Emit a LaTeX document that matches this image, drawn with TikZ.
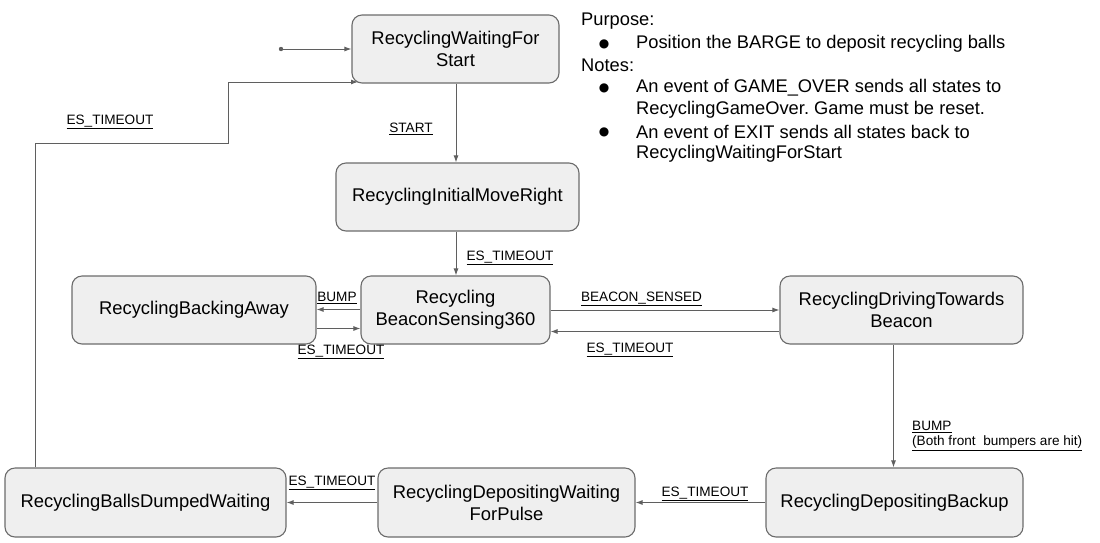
\documentclass[tikz,border=0pt]{standalone}
\usepackage{fontspec}
\setmainfont{Liberation Sans}
\newfontfamily\symfont{DejaVu Sans}
\usetikzlibrary{arrows.meta,calc}
\frenchspacing
\definecolor{boxfill}{HTML}{EFEFEF}
\definecolor{boxline}{HTML}{6B6B6B}
\definecolor{arrline}{HTML}{5F5F5F}
\tikzset{
  state/.style={draw=boxline, fill=boxfill, rounded corners=10pt, line width=1.1pt,
    align=center, inner sep=2pt, font=\fontsize{18.4}{22}\selectfont},
  arr/.style={draw=arrline, line width=1pt, -{Latex[length=7pt,width=5pt]}},
  lbl/.style={inner sep=0pt, font=\fontsize{13.6}{16}\selectfont},
  note/.style={inner sep=0pt, anchor=west, font=\fontsize{18.3}{22}\selectfont},
  bul/.style={inner sep=0pt, font=\symfont\fontsize{12}{14}\selectfont},
}
\begin{document}
\begin{tikzpicture}[x=1pt,y=-1pt]
\useasboundingbox (0,0) rectangle (1100,542);

\node[state, minimum width=207pt, minimum height=68pt] (wfs) at (455.5,49) {RecyclingWaitingFor\\Start};
\node[state, minimum width=243pt, minimum height=68pt] (imr) at (457.5,197) {RecyclingInitialMoveRight};
\node[state, minimum width=244pt, minimum height=68pt] (ba) at (194,310) {RecyclingBackingAway};
\node[state, minimum width=189pt, minimum height=68pt] (bs) at (455.5,310) {Recycling\\BeaconSensing360};
\node[state, minimum width=243pt, minimum height=68pt] (dtb) at (901.5,310) {RecyclingDrivingTowards\\Beacon};
\node[state, minimum width=257pt, minimum height=69pt] (dbk) at (894.5,502.5) {RecyclingDepositingBackup};
\node[state, minimum width=257pt, minimum height=69pt] (dwp) at (506.5,502.5) {RecyclingDepositingWaiting\\ForPulse};
\node[state, minimum width=281pt, minimum height=69pt] (bdw) at (145.5,502.5) {RecyclingBallsDumpedWaiting};

% initial
\coordinate (init) at (281,49);
\fill[arrline] (init) circle (2.2pt);
\draw[arr] (init) -- (init -| wfs.west);

% START
\draw[arr] (wfs.south -| 456,0) -- (imr.north -| 456,0);
\node[lbl] (lstart) at (411,129) {\underline{START}};

% imr -> bs
\draw[arr] (imr.south -| 456,0) -- (bs.north -| 456,0);
\node[lbl] (l1) at (510,258) {\underline{ES\_TIMEOUT}};

% bs <-> ba
\draw[arr] (bs.west |- 0,309.5) -- (ba.east |- 0,309.5);
\node[lbl] (lbump) at (337,298) {\underline{BUMP}};
\draw[arr] (ba.east |- 0,328.5) -- (bs.west |- 0,328.5);
\node[lbl] (l2) at (341,352) {\underline{ES\_TIMEOUT}};

% bs <-> dtb
\draw[arr] (bs.east |- 0,310) -- (dtb.west |- 0,310);
\node[lbl] (lbs) at (641.5,299) {\underline{BEACON\_SENSED}};
\draw[arr] (dtb.west |- 0,331.5) -- (bs.east |- 0,331.5);
\node[lbl] (l3) at (630,350) {\underline{ES\_TIMEOUT}};

% dtb -> dbk
\draw[arr] (dtb.south -| 893.5,0) -- (dbk.north -| 893.5,0);
\node[lbl, anchor=west] (lbump2) at (912,427) {\underline{BUMP}};
\node[lbl, anchor=west] (lbump3) at (912,443) {\underline{(Both front\ \ bumpers are hit)}};

% dbk -> dwp
\draw[arr] (dbk.west) -- (dwp.east);
\node[lbl] (l4) at (705,494) {\underline{ES\_TIMEOUT}};

% dwp -> bdw
\draw[arr] (dwp.west) -- (bdw.east);
\node[lbl] (l5) at (332,483) {\underline{ES\_TIMEOUT}};

% loop back
\coordinate (lp) at (228,143);
\coordinate (lend) at (358,82);
\draw[arr] (bdw.north -| 35.5,0) |- (lp) |- (lend);
\node[lbl] (l6) at (110,122) {\underline{ES\_TIMEOUT}};

% notes
\node[note] (n1) at (581,21.5) {Purpose:};
\node[bul] (b1) at (604,44) {●};
\node[note] (n2) at (636,43.5) {Position the BARGE to deposit recycling balls};
\node[note] (n3) at (581,65.5) {Notes:};
\node[bul] (b2) at (604,88) {●};
\node[note] (n4) at (636,87.5) {An event of GAME\_OVER sends all states to};
\node[note] (n5) at (636,109.5) {RecyclingGameOver. Game must be reset.};
\node[bul] (b3) at (604,132) {●};
\node[note] (n6) at (636,131.5) {An event of EXIT sends all states back to};
\node[note] (n7) at (636,153.5) {RecyclingWaitingForStart};
\end{tikzpicture}
\end{document}
